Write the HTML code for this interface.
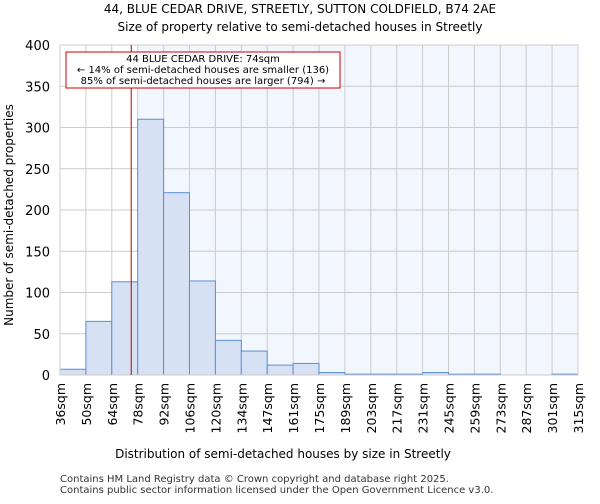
<!DOCTYPE html>
<html><head><meta charset="utf-8"><style>
body{margin:0;background:#fff;font-family:"DejaVu Sans","Liberation Sans",sans-serif}
</style></head><body>
<svg id="c" width="600" height="500" xmlns="http://www.w3.org/2000/svg" font-family="DejaVu Sans, Liberation Sans, sans-serif">
<text x="300" y="13" text-anchor="middle" font-size="12">44, BLUE CEDAR DRIVE, STREETLY, SUTTON COLDFIELD, B74 2AE</text>
<text x="300" y="31" text-anchor="middle" font-size="12">Size of property relative to semi-detached houses in Streetly</text>
<rect x="138" y="45" width="440" height="330" fill="#f2f6fd"/>
<g id="grid"></g><g id="bars"></g><g id="axes"></g>
<text x="283" y="458" text-anchor="middle" font-size="12">Distribution of semi-detached houses by size in Streetly</text>
<text transform="translate(13,215) rotate(-90)" text-anchor="middle" font-size="12">Number of semi-detached properties</text>
<text x="60" y="482" font-size="10" fill="#333">Contains HM Land Registry data © Crown copyright and database right 2025.</text>
<text x="60" y="493" font-size="10" fill="#333">Contains public sector information licensed under the Open Government Licence v3.0.</text>
</svg>
<script>
const tickLabels=["36sqm","50sqm","64sqm","78sqm","92sqm","106sqm","120sqm","134sqm","147sqm","161sqm","175sqm","189sqm","203sqm","217sqm","231sqm","245sqm","259sqm","273sqm","287sqm","301sqm","315sqm"];
const counts=[7,65,113,310,221,114,42,29,12,14,3,1,1,1,3,1,1,0,0,1];
const yTicks=[0,50,100,150,200,250,300,350,400];
const markerIndex=2.75;
const NS="http://www.w3.org/2000/svg";
const X0=60,X1=578,Y0=375,Y1=45,n=counts.length;
const bw=(X1-X0)/n;
const xs=i=>X0+i*bw, ys=v=>Y0-v*(Y0-Y1)/400;
function mk(t,a,p){const e=document.createElementNS(NS,t);for(const k in a)e.setAttribute(k,a[k]);p.appendChild(e);return e;}
const grid=document.getElementById('grid'),bars=document.getElementById('bars'),axes=document.getElementById('axes');
yTicks.forEach(v=>{
 const l=mk('line',{x1:X0,x2:X1,y1:ys(v),y2:ys(v),stroke:'#ccc'},grid);
 
 
 const t=mk('text',{x:X0-10,y:ys(v)+5,'text-anchor':'end','font-size':13},axes);
 t.textContent=v;
 
 
});
tickLabels.forEach((s,i)=>{
 const l=mk('line',{x1:xs(i),x2:xs(i),y1:Y1,y2:Y0,stroke:'#ccc'},grid);
 
 
 const t=mk('text',{transform:`translate(${xs(i)+5},${Y0+8}) rotate(-90)`,'text-anchor':'end','font-size':12.5},axes);
 t.textContent=s;
 
 
});
counts.forEach((v,i)=>{
 const r=mk('rect',{x:xs(i),y:ys(v),width:bw,height:Y0-ys(v),fill:'#d6e1f3',stroke:'#5b8fd6','stroke-width':1},bars);
 
 
});
const ax=mk('rect',{x:X0,y:Y1,width:X1-X0,height:Y0-Y1,fill:'none',stroke:'#ccc'},axes);


const mx=xs(markerIndex);
const ml=mk('line',{x1:mx,x2:mx,y1:Y1,y2:Y0,stroke:'#b00','stroke-width':1},axes);


const box=mk('rect',{x:66,y:52,width:274,height:36,fill:'#fff',stroke:'#c00'},axes);


["44 BLUE CEDAR DRIVE: 74sqm","← 14% of semi-detached houses are smaller (136)","85% of semi-detached houses are larger (794) →"].forEach((s,k)=>{
 const t=mk('text',{x:203,y:62+k*11,'text-anchor':'middle','font-size':10},axes);
 t.textContent=s;
 
 
});
</script>
</body></html>
